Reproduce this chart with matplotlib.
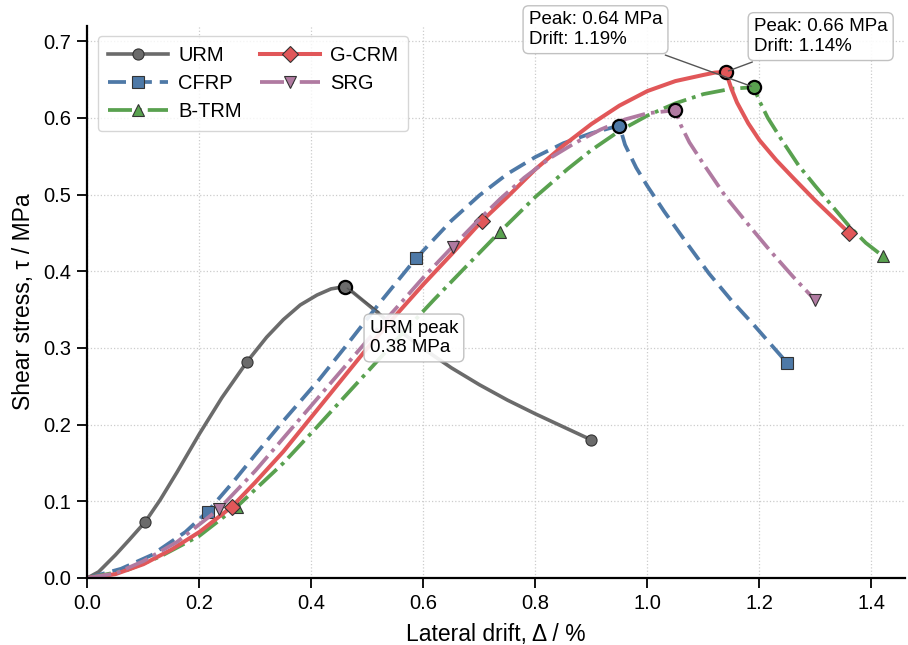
import matplotlib.pyplot as plt

plt.rcParams['font.family'] = ['Liberation Sans', 'DejaVu Sans']

# drift (%) / shear stress (MPa)
urm_x = [0, 0.02, 0.05, 0.075, 0.103, 0.13, 0.16, 0.20, 0.24, 0.285, 0.32, 0.35, 0.38, 0.41,
         0.435, 0.46, 0.475, 0.50, 0.53, 0.56, 0.60, 0.65, 0.70, 0.75, 0.80, 0.85, 0.90]
urm_y = [0, 0.008, 0.03, 0.05, 0.073, 0.102, 0.138, 0.188, 0.235, 0.282, 0.314, 0.337, 0.356, 0.369,
         0.377, 0.38, 0.372, 0.357, 0.339, 0.321, 0.299, 0.274, 0.252, 0.232, 0.214, 0.197, 0.18]

cfrp_x = [0, 0.06, 0.115, 0.175, 0.2145, 0.26, 0.30, 0.35, 0.413, 0.46, 0.52, 0.587, 0.65, 0.70,
          0.75, 0.80, 0.85, 0.90, 0.95, 0.96, 0.98, 1.00, 1.03, 1.07, 1.11, 1.15, 1.19, 1.22, 1.25]
cfrp_y = [0, 0.012, 0.030, 0.060, 0.0866, 0.125, 0.161, 0.205, 0.258, 0.301, 0.357, 0.417, 0.466, 0.499,
          0.527, 0.549, 0.567, 0.58, 0.59, 0.565, 0.535, 0.511, 0.478, 0.437, 0.397, 0.362, 0.33, 0.305, 0.28]

btrm_x = [0, 0.07, 0.13, 0.20, 0.267, 0.35, 0.41, 0.46, 0.509, 0.56, 0.619, 0.68, 0.736, 0.80,
          0.857, 0.90, 0.95, 1.00, 1.05, 1.10, 1.15, 1.19, 1.20, 1.215, 1.24, 1.27, 1.30, 1.33,
          1.36, 1.39, 1.42]
btrm_y = [0, 0.01, 0.028, 0.055, 0.093, 0.15, 0.197, 0.237, 0.276, 0.317, 0.363, 0.409, 0.451, 0.497,
          0.533, 0.558, 0.583, 0.603, 0.619, 0.631, 0.638, 0.64, 0.622, 0.60, 0.571, 0.538, 0.511, 0.485,
          0.459, 0.437, 0.42]

gcrm_x = [0, 0.05, 0.10, 0.15, 0.20, 0.258, 0.30, 0.35, 0.40, 0.45, 0.50, 0.55, 0.60, 0.65, 0.705,
          0.75, 0.80, 0.85, 0.90, 0.95, 1.00, 1.05, 1.10, 1.12, 1.14, 1.15, 1.16, 1.18, 1.20, 1.23,
          1.26, 1.30, 1.33, 1.36]
gcrm_y = [0, 0.005, 0.018, 0.037, 0.060, 0.093, 0.125, 0.165, 0.21, 0.255, 0.30, 0.342, 0.383, 0.422, 0.466,
          0.497, 0.533, 0.564, 0.592, 0.616, 0.635, 0.648, 0.656, 0.659, 0.66, 0.638, 0.620, 0.593, 0.571, 0.545,
          0.522, 0.492, 0.471, 0.45]

srg_x = [0, 0.05, 0.10, 0.16, 0.235, 0.30, 0.40, 0.50, 0.56, 0.60, 0.652, 0.70, 0.738, 0.78, 0.827,
         0.87, 0.917, 0.96, 1.00, 1.05, 1.06, 1.075, 1.10, 1.14, 1.18, 1.22, 1.26, 1.30]
srg_y = [0, 0.006, 0.022, 0.047, 0.09, 0.14, 0.225, 0.31, 0.359, 0.392, 0.432, 0.468, 0.495, 0.522, 0.548,
         0.567, 0.585, 0.598, 0.606, 0.61, 0.59, 0.568, 0.54, 0.497, 0.461, 0.426, 0.393, 0.362]

# which points carry a marker
urm_marks = [4, 9, 26]
cfrp_marks = [4, 11, 28]
btrm_marks = [4, 12, 30]
gcrm_marks = [5, 14, 33]
srg_marks = [4, 10, 27]

peak_x = [0.46, 0.95, 1.19, 1.14, 1.05]
peak_y = [0.38, 0.59, 0.64, 0.66, 0.61]

fig = plt.figure(figsize=(9.08, 6.45), dpi=100)
ax = fig.add_axes([0.0963, 0.1039, 0.9004, 0.856])

c_urm, c_cfrp, c_btrm, c_gcrm, c_srg = '#6b6b6b', '#4e79a7', '#59a14f', '#e15759', '#b07aa1'
mk = dict(markersize=8, markeredgecolor='#333333', markeredgewidth=0.8)

ax.plot(urm_x, urm_y, '-', color=c_urm, lw=2.6, marker='o', markevery=urm_marks, label='URM', **mk)
ax.plot(cfrp_x, cfrp_y, '--', color=c_cfrp, lw=2.7, dashes=(4.8, 2.1), marker='s',
        markevery=cfrp_marks, label='CFRP', **mk)
ax.plot(btrm_x, btrm_y, '-.', color=c_btrm, lw=2.7, marker='^', markevery=btrm_marks, label='B-TRM', **mk)
ax.plot(gcrm_x, gcrm_y, '-', color=c_gcrm, lw=2.9, marker='D', markevery=gcrm_marks, label='G-CRM', **mk)
ax.plot(srg_x, srg_y, '-.', color=c_srg, lw=2.7, marker='v', markevery=srg_marks, label='SRG', **mk)

for px, py, c in zip(peak_x, peak_y, [c_urm, c_cfrp, c_btrm, c_gcrm, c_srg]):
    ax.plot(px, py, 'o', color=c, markersize=9.5, markeredgecolor='black', markeredgewidth=1.6, zorder=5)

box = dict(boxstyle='round,pad=0.3', fc='white', ec='#bbbbbb', alpha=0.9)
arr = dict(arrowstyle='-', color='#555555', lw=1)
ax.annotate('URM peak\n0.38 MPa', xy=(0.46, 0.38), xytext=(0.504, 0.313), ha='left', va='center',
            fontsize=13.5, bbox=box, arrowprops=arr, zorder=6)
ax.annotate('Peak: 0.66 MPa\nDrift: 1.14%', xy=(1.14, 0.66), xytext=(1.19, 0.706), ha='left', va='center',
            fontsize=13.5, bbox=box, arrowprops=arr, zorder=6, annotation_clip=False)
ax.annotate('Peak: 0.64 MPa\nDrift: 1.19%', xy=(1.19, 0.64), xytext=(0.788, 0.715), ha='left', va='center',
            fontsize=13.5, bbox=box, arrowprops=arr, zorder=6, annotation_clip=False)

ax.set_xlim(0, 1.46)
ax.set_ylim(0, 0.72)
ax.set_xlabel('Lateral drift, Δ / %', fontsize=16.5, labelpad=7)
ax.set_ylabel('Shear stress, τ / MPa', fontsize=16.5, labelpad=6)
ax.tick_params(labelsize=14.5, width=1.3, length=7, pad=4.8)
ax.grid(True, ls=':', color='#cccccc', lw=0.9)
ax.set_axisbelow(True)
for s in ['top', 'right']:
    ax.spines[s].set_visible(False)
for s in ['left', 'bottom']:
    ax.spines[s].set_linewidth(1.6)

leg = ax.legend(loc='upper left', ncol=2, fontsize=14.5, frameon=True, handlelength=3.0,
                handletextpad=0.5, columnspacing=0.9, borderpad=0.5, labelspacing=0.45)
leg.get_frame().set_edgecolor('#cccccc')

plt.savefig('out.png', dpi=100)
